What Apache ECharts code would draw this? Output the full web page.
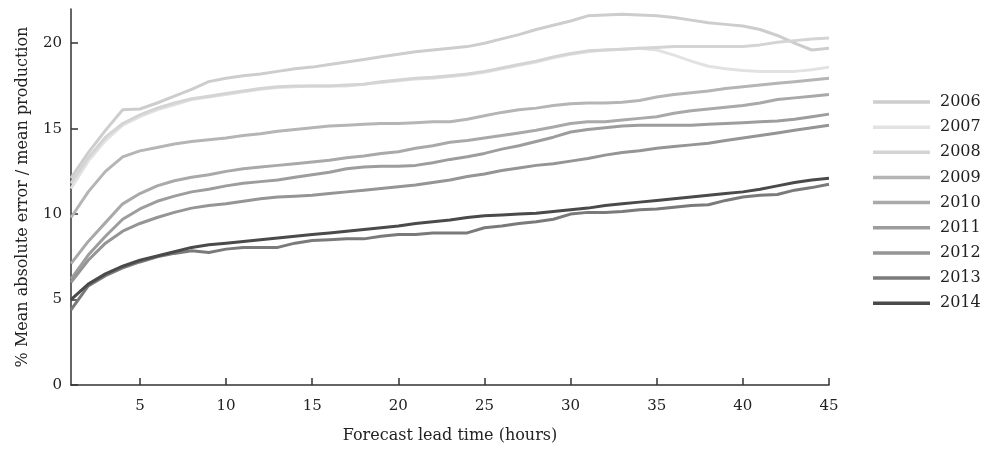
<!DOCTYPE html>
<html>
<head>
<meta charset="utf-8">
<script src="https://cdn.jsdelivr.net/npm/echarts@6/dist/echarts.min.js"></script>
<style>
html,body{margin:0;padding:0;background:#fff;}
#chart{width:986px;height:449px;}
</style>
</head>
<body>
<div id="chart"></div>
<script>
// Forecast lead time (hours)
const hours = [1,2,3,4,5,6,7,8,9,10,11,12,13,14,15,16,17,18,19,20,21,22,23,24,25,26,27,28,29,30,31,32,33,34,35,36,37,38,39,40,41,42,43,44,45];
const years = ['2006','2007','2008','2009','2010','2011','2012','2013','2014'];
const xTicks = [5,10,15,20,25,30,35,40,45];
const yTicks = [0,5,10,15,20];

const y2006 = [12.1,13.6,14.9,16.1,16.15,16.5,16.9,17.3,17.75,17.95,18.1,18.2,18.35,18.5,18.6,18.75,18.9,19.05,19.2,19.35,19.5,19.6,19.7,19.8,20.0,20.25,20.5,20.8,21.05,21.3,21.6,21.65,21.7,21.65,21.6,21.5,21.35,21.2,21.1,21.0,20.8,20.45,20.0,19.6,19.7];
const y2007 = [11.5,13.1,14.3,15.2,15.7,16.1,16.4,16.7,16.85,17.0,17.15,17.3,17.4,17.45,17.5,17.5,17.5,17.6,17.7,17.8,17.9,17.95,18.05,18.15,18.3,18.5,18.7,18.9,19.15,19.35,19.5,19.6,19.65,19.7,19.6,19.3,18.95,18.65,18.5,18.4,18.35,18.35,18.35,18.45,18.6];
const y2008 = [11.8,13.3,14.5,15.3,15.8,16.2,16.5,16.75,16.9,17.05,17.2,17.35,17.45,17.5,17.5,17.5,17.55,17.6,17.75,17.85,17.95,18.0,18.1,18.2,18.35,18.55,18.75,18.95,19.2,19.4,19.55,19.6,19.65,19.7,19.75,19.8,19.8,19.8,19.8,19.8,19.9,20.05,20.15,20.25,20.3];
const y2009 = [9.8,11.3,12.5,13.35,13.7,13.9,14.1,14.25,14.35,14.45,14.6,14.7,14.85,14.95,15.05,15.15,15.2,15.25,15.3,15.3,15.35,15.4,15.4,15.55,15.75,15.95,16.1,16.2,16.35,16.45,16.5,16.5,16.55,16.65,16.85,17.0,17.1,17.2,17.35,17.45,17.55,17.65,17.75,17.85,17.95];
const y2010 = [7.1,8.4,9.5,10.6,11.2,11.65,11.95,12.15,12.3,12.5,12.65,12.75,12.85,12.95,13.05,13.15,13.3,13.4,13.55,13.65,13.85,14.0,14.2,14.3,14.45,14.6,14.75,14.9,15.1,15.3,15.4,15.4,15.5,15.6,15.7,15.9,16.05,16.15,16.25,16.35,16.5,16.7,16.8,16.9,17.0];
const y2011 = [6.2,7.6,8.7,9.7,10.3,10.75,11.05,11.3,11.45,11.65,11.8,11.9,12.0,12.15,12.3,12.45,12.65,12.75,12.8,12.8,12.85,13.0,13.2,13.35,13.55,13.8,14.0,14.25,14.5,14.8,14.95,15.05,15.15,15.2,15.2,15.2,15.2,15.25,15.3,15.35,15.4,15.45,15.55,15.7,15.85];
const y2012 = [6.0,7.3,8.3,9.0,9.45,9.8,10.1,10.35,10.5,10.6,10.75,10.9,11.0,11.05,11.1,11.2,11.3,11.4,11.5,11.6,11.7,11.85,12.0,12.2,12.35,12.55,12.7,12.85,12.95,13.1,13.25,13.45,13.6,13.7,13.85,13.95,14.05,14.15,14.3,14.45,14.6,14.75,14.9,15.05,15.2];
const y2013 = [4.4,5.8,6.4,6.85,7.2,7.5,7.7,7.85,7.75,7.95,8.05,8.05,8.05,8.3,8.45,8.5,8.55,8.55,8.7,8.8,8.8,8.9,8.9,8.9,9.2,9.3,9.45,9.55,9.7,10.0,10.1,10.1,10.15,10.25,10.3,10.4,10.5,10.55,10.8,11.0,11.1,11.15,11.4,11.55,11.75];
const y2014 = [5.0,5.9,6.5,6.95,7.3,7.55,7.8,8.05,8.2,8.3,8.4,8.5,8.6,8.7,8.8,8.9,9.0,9.1,9.2,9.3,9.45,9.55,9.65,9.8,9.9,9.95,10.0,10.05,10.15,10.25,10.35,10.5,10.6,10.7,10.8,10.9,11.0,11.1,11.2,11.3,11.45,11.65,11.85,12.0,12.1];

const seriesValues = [y2006,y2007,y2008,y2009,y2010,y2011,y2012,y2013,y2014];
const colors = ['#cdcdcd','#e2e2e2','#d4d4d4','#b5b5b5','#a9a9a9','#9d9d9d','#959595','#7a7a7a','#4a4a4a'];

const FONT = '"DejaVu Serif", "Liberation Serif", serif';

const chart = echarts.init(document.getElementById('chart'), null, {renderer:'canvas'});
chart.setOption({
  animation: false,
  backgroundColor: '#fff',
  grid: {left: 71, right: 157, top: 9, bottom: 59, containLabel: false},
  legend: {
    orient: 'vertical',
    left: 873, top: 94, padding: 0,
    icon: 'rect',
    itemWidth: 57, itemHeight: 3.5, itemGap: 9.15,
    textStyle: {fontFamily: FONT, fontSize: 16, color: '#222', height: 14, lineHeight: 14, padding:[0,0,0,5]},
    data: years
  },
  xAxis: {
    type: 'value', min: 1, max: 45,
    name: 'Forecast lead time (hours)', nameLocation: 'middle', nameGap: 43,
    nameTextStyle: {fontFamily: FONT, fontSize: 16, color: '#222'},
    axisLine: {lineStyle: {color: '#333', width: 1.5}},
    axisTick: {show: true, inside: true, length: 7, customValues: xTicks, lineStyle:{color:'#333', width:1.5}},
    axisLabel: {customValues: xTicks, fontFamily: FONT, fontSize: 15, color: '#222', margin: 14},
    splitLine: {show: false}
  },
  yAxis: {
    type: 'value', min: 0, max: 22,
    name: '% Mean absolute error / mean production', nameLocation: 'middle', nameGap: 40,
    nameTextStyle: {fontFamily: FONT, fontSize: 16, color: '#222'},
    axisLine: {show: true, lineStyle: {color: '#333', width: 1.5}},
    axisTick: {show: true, inside: true, length: 7, customValues: yTicks, lineStyle:{color:'#333', width:1.5}},
    axisLabel: {customValues: yTicks, fontFamily: FONT, fontSize: 15, color: '#222', margin: 9},
    splitLine: {show: false}
  },
  series: years.map((yr, i) => ({
    name: yr,
    type: 'line',
    symbol: 'none',
    color: colors[i],
    lineStyle: {width: 3, color: colors[i]},
    data: hours.map((h, j) => [h, seriesValues[i][j]])
  }))
});
</script>
</body>
</html>
